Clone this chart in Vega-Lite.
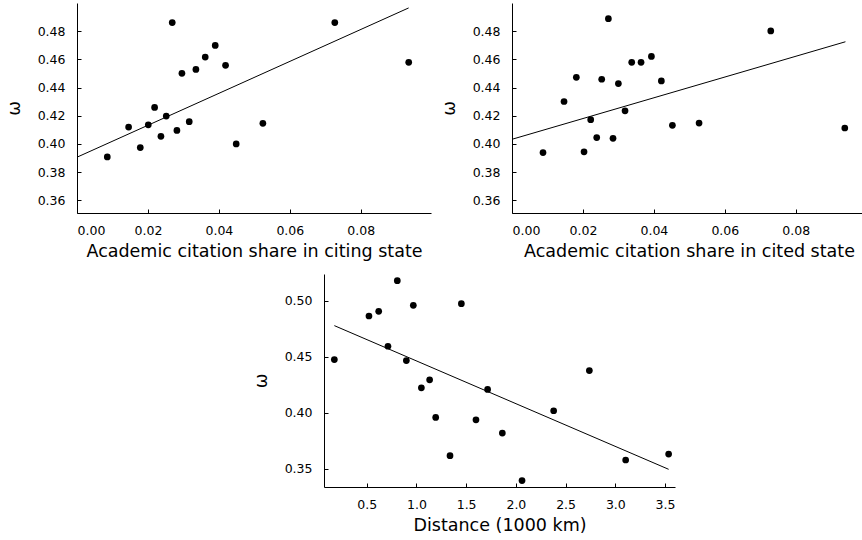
{
  "$schema": "https://vega.github.io/schema/vega-lite/v6.json",
  "padding": {"left": 5, "top": 3, "right": 0, "bottom": 0},
  "config": {
    "view": {"stroke": null},
    "font": "DejaVu Sans",
    "axis": {
      "domainColor": "black",
      "domainWidth": 1,
      "grid": false,
      "ticks": true,
      "tickSize": -4,
      "tickColor": "black",
      "tickCount": 20,
      "labelOverlap": false,
      "labelFont": "DejaVu Sans",
      "labelFontSize": 12.5,
      "labelColor": "black",
      "titleFont": "DejaVu Sans",
      "titleFontSize": 17.5,
      "titleFontWeight": "normal",
      "titleColor": "black"
    },
    "axisY": {"titleAngle": 270, "labelPadding": 16, "titlePadding": 14},
    "axisX": {"labelPadding": 15, "titlePadding": 6}
  },
  "datasets": {
    "citing": [
      {"x": 0.00854, "w": 0.3908}, {"x": 0.01455, "w": 0.412}, {"x": 0.01784, "w": 0.3974},
      {"x": 0.0201, "w": 0.4136}, {"x": 0.02188, "w": 0.4259}, {"x": 0.02366, "w": 0.4054},
      {"x": 0.02516, "w": 0.4198}, {"x": 0.02685, "w": 0.4861}, {"x": 0.02817, "w": 0.4096},
      {"x": 0.02958, "w": 0.4501}, {"x": 0.03164, "w": 0.4158}, {"x": 0.03352, "w": 0.4529},
      {"x": 0.03615, "w": 0.4616}, {"x": 0.03897, "w": 0.4699}, {"x": 0.04188, "w": 0.4558},
      {"x": 0.04488, "w": 0.4}, {"x": 0.0524, "w": 0.4146}, {"x": 0.07268, "w": 0.4861},
      {"x": 0.09352, "w": 0.4579}
    ],
    "citing_fit": [{"x": 0.0, "w": 0.3906}, {"x": 0.0935, "w": 0.4965}],
    "cited": [
      {"x": 0.00874, "w": 0.3939}, {"x": 0.01467, "w": 0.4301}, {"x": 0.01814, "w": 0.4473},
      {"x": 0.02031, "w": 0.3944}, {"x": 0.02219, "w": 0.4172}, {"x": 0.02388, "w": 0.4045},
      {"x": 0.02529, "w": 0.4459}, {"x": 0.02717, "w": 0.4889}, {"x": 0.02848, "w": 0.404},
      {"x": 0.02999, "w": 0.4428}, {"x": 0.03187, "w": 0.4235}, {"x": 0.03375, "w": 0.4579},
      {"x": 0.03638, "w": 0.4579}, {"x": 0.0393, "w": 0.4621}, {"x": 0.04211, "w": 0.4447},
      {"x": 0.04522, "w": 0.4132}, {"x": 0.05274, "w": 0.4148}, {"x": 0.07295, "w": 0.4802},
      {"x": 0.09382, "w": 0.4113}
    ],
    "cited_fit": [{"x": 0.0, "w": 0.4033}, {"x": 0.094, "w": 0.4725}],
    "dist": [
      {"d": 0.175, "w": 0.4474}, {"d": 0.523, "w": 0.4863}, {"d": 0.621, "w": 0.4905},
      {"d": 0.714, "w": 0.4593}, {"d": 0.808, "w": 0.5178}, {"d": 0.899, "w": 0.4465},
      {"d": 0.969, "w": 0.4958}, {"d": 1.05, "w": 0.4222}, {"d": 1.133, "w": 0.4293},
      {"d": 1.194, "w": 0.3957}, {"d": 1.338, "w": 0.3616}, {"d": 1.452, "w": 0.4973},
      {"d": 1.599, "w": 0.3936}, {"d": 1.716, "w": 0.4207}, {"d": 1.864, "w": 0.3818},
      {"d": 2.062, "w": 0.3393}, {"d": 2.38, "w": 0.4017}, {"d": 2.739, "w": 0.4376},
      {"d": 3.104, "w": 0.3577}, {"d": 3.536, "w": 0.363}
    ],
    "dist_fit": [{"d": 0.175, "w": 0.4777}, {"d": 3.536, "w": 0.3494}]
  },
  "vconcat": [
    {
      "hconcat": [
        {
          "width": 354, "height": 210,
          "layer": [
            {
              "data": {"name": "citing_fit"},
              "mark": {"type": "line", "color": "black", "strokeWidth": 1},
              "encoding": {
                "x": {"field": "x", "type": "quantitative"},
                "y": {"field": "w", "type": "quantitative"}
              }
            },
            {
              "data": {"name": "citing"},
              "mark": {"type": "point", "filled": true, "color": "black", "opacity": 1, "size": 45},
              "encoding": {
                "x": {"field": "x", "type": "quantitative", "title": "Academic citation share in citing state",
                  "scale": {"domain": [0, 0.0998], "nice": false, "zero": false},
                  "axis": {"values": [0, 0.02, 0.04, 0.06, 0.08], "format": ".2f", "labelOverlap": false, "tickCount": 20}},
                "y": {"field": "w", "type": "quantitative", "title": "ω",
                  "scale": {"domain": [0.351, 0.5], "nice": false, "zero": false},
                  "axis": {"values": [0.36, 0.38, 0.40, 0.42, 0.44, 0.46, 0.48], "format": ".2f", "labelOverlap": false, "tickCount": 20}}
              }
            }
          ]
        },
        {
          "width": 354, "height": 210,
          "layer": [
            {
              "data": {"name": "cited_fit"},
              "mark": {"type": "line", "color": "black", "strokeWidth": 1},
              "encoding": {
                "x": {"field": "x", "type": "quantitative"},
                "y": {"field": "w", "type": "quantitative"}
              }
            },
            {
              "data": {"name": "cited"},
              "mark": {"type": "point", "filled": true, "color": "black", "opacity": 1, "size": 45},
              "encoding": {
                "x": {"field": "x", "type": "quantitative", "title": "Academic citation share in cited state",
                  "scale": {"domain": [0, 0.0998], "nice": false, "zero": false},
                  "axis": {"values": [0, 0.02, 0.04, 0.06, 0.08], "format": ".2f", "labelOverlap": false, "tickCount": 20}},
                "y": {"field": "w", "type": "quantitative", "title": "ω",
                  "scale": {"domain": [0.351, 0.5], "nice": false, "zero": false},
                  "axis": {"values": [0.36, 0.38, 0.40, 0.42, 0.44, 0.46, 0.48], "format": ".2f", "labelOverlap": false, "tickCount": 20}}
              }
            }
          ]
        }
      ],
      "spacing": 9
    },
    {
      "hconcat": [
        {
          "width": 175, "height": 10,
          "data": {"values": [{}]},
          "mark": {"type": "point", "opacity": 0},
          "encoding": {}
        },
        {
          "width": 351, "height": 213,
          "layer": [
            {
              "data": {"name": "dist_fit"},
              "mark": {"type": "line", "color": "black", "strokeWidth": 1},
              "encoding": {
                "x": {"field": "d", "type": "quantitative"},
                "y": {"field": "w", "type": "quantitative"}
              }
            },
            {
              "data": {"name": "dist"},
              "mark": {"type": "point", "filled": true, "color": "black", "opacity": 1, "size": 45},
              "encoding": {
                "x": {"field": "d", "type": "quantitative", "title": "Distance (1000 km)",
                  "scale": {"domain": [0.071, 3.6], "nice": false, "zero": false},
                  "axis": {"values": [0.5, 1.0, 1.5, 2.0, 2.5, 3.0, 3.5], "format": ".1f", "labelOverlap": false, "tickCount": 20}},
                "y": {"field": "w", "type": "quantitative", "title": "ω",
                  "scale": {"domain": [0.3336, 0.5238], "nice": false, "zero": false},
                  "axis": {"values": [0.35, 0.40, 0.45, 0.50], "format": ".2f", "labelOverlap": false, "tickCount": 20}}
              }
            }
          ]
        }
      ],
      "spacing": 0
    }
  ],
  "spacing": 14
}
